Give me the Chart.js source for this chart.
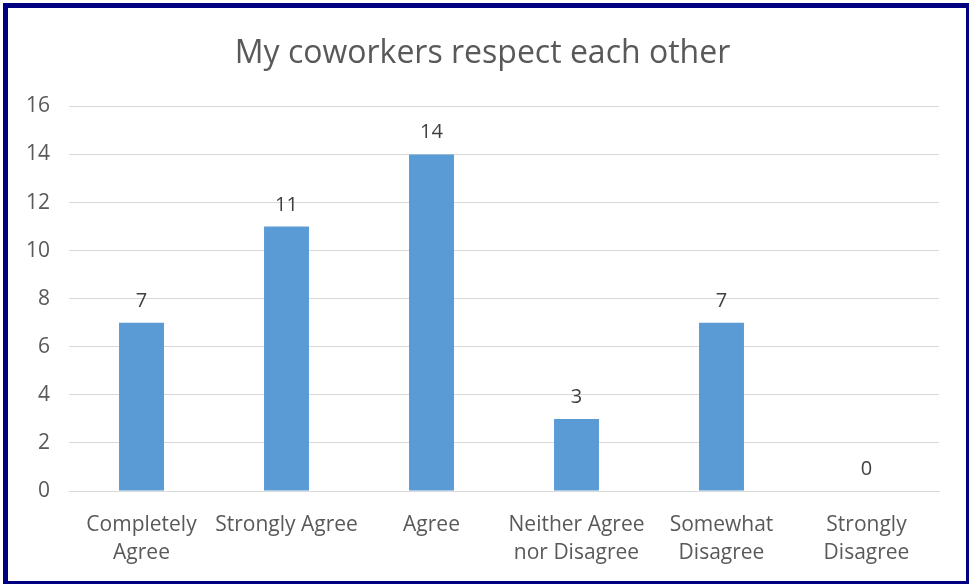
<!DOCTYPE html>
<html lang="en">
  <head>
    <meta charset="UTF-8" />
    <title>My coworkers respect each other</title>
    <script src="https://cdn.jsdelivr.net/npm/chart.js@4"></script>
    <style>
      body { margin: 0; background: #fff; overflow: hidden; }
      #frame {
        position: absolute;
        left: 3px;
        top: 3px;
        width: 958px;
        height: 573px;
        border: 5px solid #000080;
        background: #fff;
      }
      canvas { display: block; }
    </style>
  </head>
  <body>
    <div id="frame">
      <canvas id="chart" width="958" height="573"></canvas>
    </div>

    <script>
      const categories = [
        ["Completely", "Agree"],
        "Strongly Agree",
        "Agree",
        ["Neither Agree", "nor Disagree"],
        ["Somewhat", "Disagree"],
        ["Strongly", "Disagree"],
      ];
      const counts = [7, 11, 14, 3, 7, 0];
      const yTicks = { min: 0, max: 16, step: 2 };

      const FONT = "'Open Sans', sans-serif";

      // write each bar's value just above it
      const valueLabels = {
        id: "valueLabels",
        afterDatasetsDraw(chart) {
          const ctx = chart.ctx;
          const meta = chart.getDatasetMeta(0);
          ctx.save();
          ctx.font = "20px " + FONT;
          ctx.fillStyle = "#404040";
          ctx.textAlign = "center";
          ctx.textBaseline = "alphabetic";
          meta.data.forEach((bar, i) => {
            ctx.fillText(counts[i], bar.x, bar.y - 16);
          });
          ctx.restore();
        },
      };

      new Chart(document.getElementById("chart"), {
        type: "bar",
        data: {
          labels: categories,
          datasets: [
            {
              data: counts,
              backgroundColor: "#5b9bd5",
              categoryPercentage: 1,
              barPercentage: 0.31,
            },
          ],
        },
        options: {
          responsive: false,
          animation: false,
          layout: { padding: { left: 18, right: 27, top: 0, bottom: 15 } },
          plugins: {
            legend: { display: false },
            tooltip: { enabled: false },
            title: {
              display: true,
              text: "My coworkers respect each other",
              color: "#595959",
              font: { family: FONT, size: 32, weight: "normal" },
              padding: { top: 27, bottom: 33 },
            },
          },
          scales: {
            x: {
              grid: { display: false, drawTicks: false },
              border: { color: "#d9d9d9" },
              ticks: {
                color: "#595959",
                font: { family: FONT, size: 21, lineHeight: 1.33 },
                maxRotation: 0,
                autoSkip: false,
                padding: 20,
              },
              afterFit(scale) {
                scale.height = 75;
              },
            },
            y: {
              min: yTicks.min,
              max: yTicks.max,
              ticks: {
                stepSize: yTicks.step,
                color: "#595959",
                font: { family: FONT, size: 21 },
                padding: 19,
              },
              grid: { color: "#d9d9d9", drawTicks: false },
              border: { display: false },
              afterFit(scale) {
                scale.width = 43;
              },
            },
          },
        },
        plugins: [valueLabels],
      });
    </script>
  </body>
</html>
